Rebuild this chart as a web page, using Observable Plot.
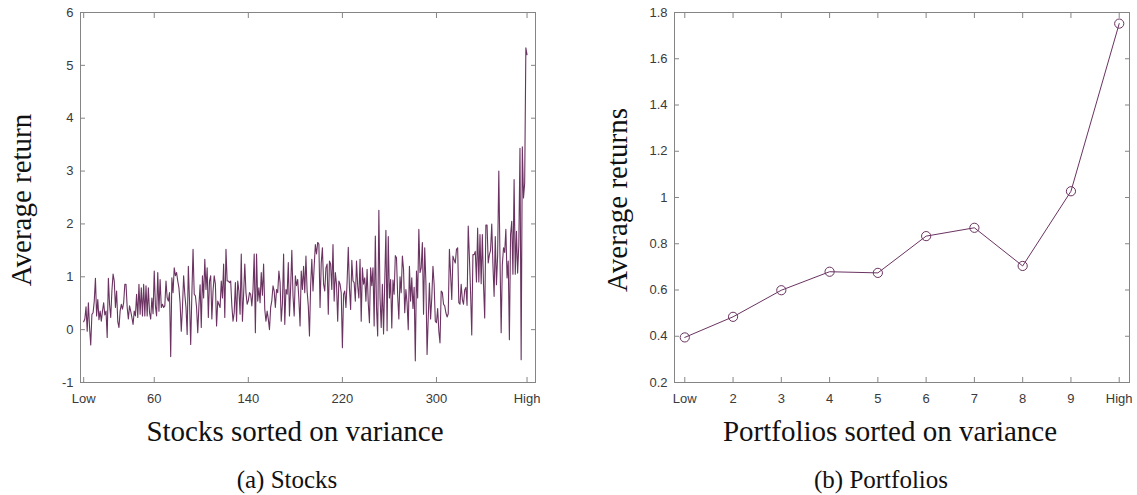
<!DOCTYPE html>
<html>
<head>
<meta charset="utf-8">
<script src="https://cdn.jsdelivr.net/npm/d3@7"></script>
<script src="https://cdn.jsdelivr.net/npm/@observablehq/plot@0.6"></script>
<style>
  html, body { margin: 0; padding: 0; background: #fff; }
  body { width: 1137px; height: 495px; position: relative; overflow: hidden; }
  .fig { position: absolute; top: 0; }
  .lab { position: absolute; white-space: nowrap; font-family: "Liberation Serif", "Times New Roman", serif; color: #111; }
</style>
</head>
<body>
<div id="figA" class="fig" style="left:0px"></div>
<div id="figB" class="fig" style="left:560px"></div>
<script>
// ---------- Data ----------
// (a) average return of each stock, stocks sorted on variance (Low ... High)
const stockReturns = [
  // 0..61
  0.15, 0.2, 0.43, -0.03, 0.51, 0.04, -0.29, 0.29, 0.32, 0.54,
  0.97, 0.26, 0.57, 0.19, 0.35, 0.16, 0.35, 0.51, 0.28, 0.35,
  -0.15, 0.97, 0.48, 0.23, 0.73, 1.05, 0.92, 0.42, 0.73, 0.15,
  0.04, 0.35, 0.48, 0.39, 0.51, 0.86, 0.86, 0.42, 0.2, 0.45,
  0.35, 0.23, 0.1, 0.35, 0.26, 0.67, 0.23, 0.86, 0.29, 0.79,
  0.26, 0.86, 0.26, 0.83, 0.26, 0.79, 0.32, 0.2, 0.6, 0.3,
  1.11, 0.45,
  // 62..129
  0.26, 1.08, 0.35, 0.95, 0.42, 0.48, 0.42, 0.45, 0.92, 0.6,
  0.54, 0.7, -0.51, 0.98, 0.7, 1.17, 1.02, 1.08, 0.92, 0.79,
  0.5, -0.03, 0.42, 1.02, 0.67, 0.42, -0.09, 1.2, 0.54, -0.28,
  0.67, 1.52, 0.67, 0.64, 0.42, -0.06, 0.45, 0.85, 0.04, 1.02,
  0.6, 1.33, 0.76, 1.17, 0.23, 0.92, 1.02, 0.2, 0.73, 1.02,
  0.86, 0.07, 0.54, 0.48, 0.42, 0.92, 0.6, 1.24, 0.23, 1.52,
  0.92, 0.92, 0.89, 0.92, 0.45, 0.16, 0.32, 0.89,
  // 130..197
  0.16, 0.92, 0.73, 0.29, 1.43, 0.16, 0.67, 1.24, 0.7, 0.48,
  0.55, 0.7, 0.67, 0.45, 0.76, 1.43, -0.06, 1.43, 0.54, 0.79,
  0.51, 1.08, 0.65, 1.24, 0.38, 0.16, 0.35, 0.2, 0.0, 0.42,
  0.55, 0.83, 0.73, 0.42, 0.76, 0.7, 1.11, 0.89, 0.16, 0.5,
  1.43, 0.1, 0.76, 0.67, 1.27, 0.26, 0.8, 1.5, 0.64, 0.26,
  1.02, 0.83, 0.95, 0.57, 0.07, 1.11, 0.76, 1.2, 0.7, 1.39,
  0.73, 0.45, -0.12, 0.83, 1.33, 0.73, 1.2, 1.61,
  // 198..265
  1.43, 1.65, 1.62, 0.42, 1.26, 1.55, 0.86, 0.73, 1.17, 1.24,
  0.29, 1.3, 1.24, 0.76, 1.61, 0.54, 1.08, 0.86, 0.16, 0.92,
  0.86, 0.7, -0.34, 0.67, 0.73, 0.42, 0.9, 1.56, 0.79, 0.38,
  1.31, 0.92, 0.89, 0.54, 1.3, 0.83, 0.6, 1.33, 0.16, 1.17,
  0.86, 0.98, 0.54, 1.14, 0.5, 0.13, 1.17, 0.83, 1.17, 0.07,
  1.77, 0.42, -0.12, 2.26, 0.61, 0.04, 0.86, -0.08, 0.9, 1.88,
  -0.02, 1.76, 0.6, 0.95, 0.03, 0.94, 0.67, 1.4,
  // 266..329
  1.36, 0.64, 0.2, 1.0, 0.7, 1.39, 1.14, 0.32, 0.76, 0.5,
  0.0, 1.2, 0.54, 0.98, 0.4, 0.8, -0.59, 1.11, 0.6, 1.9,
  1.08, 1.17, 1.65, 0.29, 1.55, 0.9, -0.47, 0.23, 0.88, 0.2,
  0.6, 1.2, 0.86, 0.16, 0.13, 0.4, -0.03, -0.25, 0.73, 0.7,
  0.48, 0.45, 0.32, 0.24, 0.3, 1.52, 1.05, 0.57, 1.39, 1.32,
  1.26, 1.52, 1.55, 0.51, 0.48, 0.86, 0.57, 0.48, 0.75, 0.8,
  0.46, 1.96, 1.36, 0.7,
  // 330..377
  -0.1, 1.42, 1.42, 1.48, 0.9, 1.92, 0.9, 1.8, 0.87, 1.8,
  0.85, 0.22, 1.98, 1.98, 1.26, 1.42, 1.5, 2.0, 1.23, 0.63,
  1.76, 0.85, 1.4, 3.0, 1.36, -0.06, 1.23, 1.55, 1.46, 1.9,
  0.98, 1.3, -0.19, 1.8, 2.05, 1.05, 2.84, 1.05, 1.86, 1.07,
  1.6, 3.43, -0.57, 3.46, 2.49, 2.77, 5.33, 5.2
];
const stockTickValues = [0, 60, 140, 220, 300, 377];
const stockTickLabels = ["Low", "60", "140", "220", "300", "High"];
const stockYTicks = [-1, 0, 1, 2, 3, 4, 5, 6];

// (b) average return of variance-sorted portfolios
const portfolioLabels = ["Low", "2", "3", "4", "5", "6", "7", "8", "9", "High"];
const portfolioReturns = [0.395, 0.484, 0.599, 0.679, 0.674, 0.833, 0.869, 0.704, 1.027, 1.752];
const portfolioYTicks = [0.2, 0.4, 0.6, 0.8, 1.0, 1.2, 1.4, 1.6, 1.8];

// ---------- Style ----------
const lineColor = "#6a3361";
const frameColor = "#858585";
const tickTextColor = "#3a3a3a";
const axisStyle = {
  fontFamily: "'Liberation Sans', Arial, Helvetica, sans-serif",
  fontSize: "13px",
  background: "white",
  overflow: "visible"
};

function boxAxes(xTicks, xLabelOf, yTicks, yFmt) {
  return [
    Plot.frame({stroke: frameColor, strokeWidth: 1}),
    Plot.axisX({anchor: "bottom", ticks: xTicks, tickSize: -5, tickFormat: () => "", stroke: frameColor, label: null}),
    Plot.axisX({anchor: "top", ticks: xTicks, tickSize: -5, tickFormat: () => "", stroke: frameColor, label: null}),
    Plot.axisY({anchor: "left", ticks: yTicks, tickSize: -5, tickFormat: () => "", stroke: frameColor, label: null}),
    Plot.axisY({anchor: "right", ticks: yTicks, tickSize: -5, tickFormat: () => "", stroke: frameColor, label: null}),
    Plot.axisX({anchor: "bottom", ticks: xTicks, tickSize: 0, tickPadding: 11, tickFormat: xLabelOf, color: tickTextColor, label: null}),
    Plot.axisY({anchor: "left", ticks: yTicks, tickSize: 0, tickPadding: 7, tickFormat: yFmt, color: tickTextColor, label: null})
  ];
}

// ---------- (a) Stocks ----------
const stockData = stockReturns.map((v, i) => ({idx: i, ret: v}));
const stockLabelMap = new Map(stockTickValues.map((v, i) => [v, stockTickLabels[i]]));
const chartA = Plot.plot({
  width: 560, height: 410,
  marginLeft: 80, marginRight: 25, marginTop: 12, marginBottom: 28,
  style: axisStyle,
  x: {domain: [-2.7, 384.2]},
  y: {domain: [-1, 6]},
  marks: [
    Plot.line(stockData, {x: "idx", y: "ret", stroke: lineColor, strokeWidth: 1.1}),
    ...boxAxes(stockTickValues, d => stockLabelMap.get(d), stockYTicks, d => String(d))
  ]
});
document.getElementById("figA").appendChild(chartA);

// ---------- (b) Portfolios ----------
const portData = portfolioReturns.map((v, i) => ({k: i + 1, ret: v}));
const portTickValues = portfolioLabels.map((_, i) => i + 1);
const chartB = Plot.plot({
  width: 577, height: 410,
  marginLeft: 114, marginRight: 8, marginTop: 12, marginBottom: 28,
  style: axisStyle,
  x: {domain: [0.787, 10.213]},
  y: {domain: [0.2, 1.8]},
  marks: [
    Plot.line(portData, {x: "k", y: "ret", stroke: lineColor, strokeWidth: 1}),
    Plot.dot(portData, {x: "k", y: "ret", r: 4.6, stroke: lineColor, fill: "none", strokeWidth: 1}),
    ...boxAxes(portTickValues, d => portfolioLabels[d - 1], portfolioYTicks, d => String(+d.toFixed(1)))
  ]
});
document.getElementById("figB").appendChild(chartB);

// ---------- Titles and captions ----------
function addText(txt, cx, baseline, size) {
  const el = document.createElement("div");
  el.className = "lab";
  el.textContent = txt;
  el.style.fontSize = size + "px";
  el.style.lineHeight = size + "px";
  el.style.left = cx + "px";
  el.style.top = (baseline - 0.8375 * size) + "px";
  el.style.transform = "translateX(-50%)";
  document.body.appendChild(el);
}
function addVText(txt, cx, cy, size) {
  const el = document.createElement("div");
  el.className = "lab";
  el.textContent = txt;
  el.style.fontSize = size + "px";
  el.style.lineHeight = size + "px";
  el.style.left = cx + "px";
  el.style.top = cy + "px";
  el.style.transform = "translate(-50%, -50%) rotate(-90deg)";
  document.body.appendChild(el);
}
addVText("Average return", 21, 200, 29);
addVText("Average returns", 617, 200, 29);
addText("Stocks sorted on variance", 295, 441, 29);
addText("Portfolios sorted on variance", 890, 441, 29);
addText("(a) Stocks", 287, 488, 25);
addText("(b) Portfolios", 881, 488, 25);
</script>
</body>
</html>
